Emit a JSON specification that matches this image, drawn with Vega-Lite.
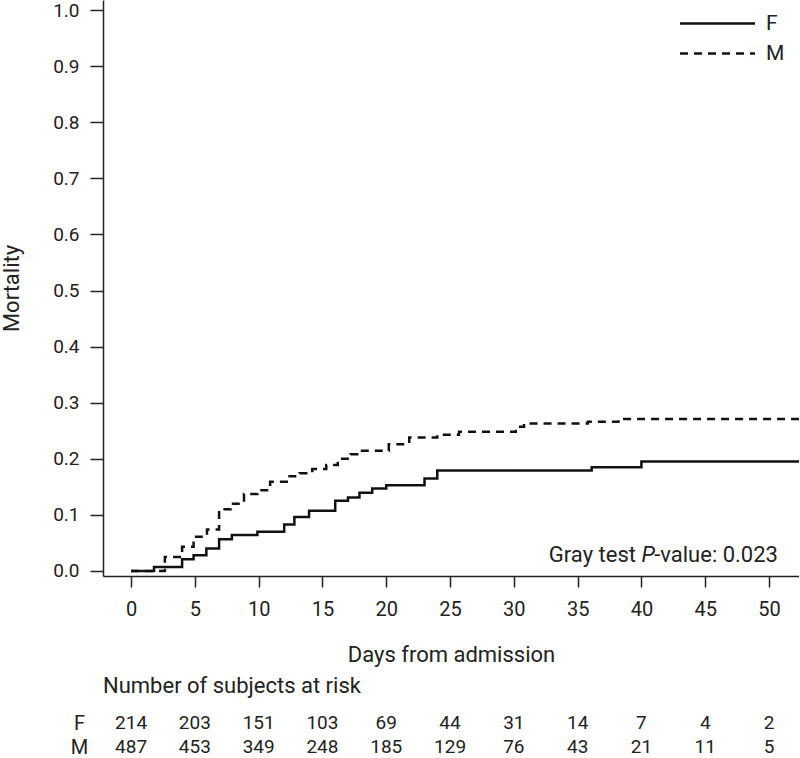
{
  "$schema": "https://vega.github.io/schema/vega-lite/v6.json",
  "padding": {"left": 0, "top": 0, "right": 0, "bottom": 0},
  "background": "white",
  "config": {
    "font": "Roboto",
    "view": {"stroke": null},
    "axis": {"domainColor": "#222", "tickColor": "#222", "labelColor": "#222", "titleColor": "#222", "grid": false, "domainWidth": 1.5, "tickWidth": 1.5, "titleFontWeight": "normal"},
    "concat": {"spacing": 10}
  },
  "datasets": {
    "curves": [
      {"sex": "F", "day": 0, "mortality": 0},
      {"sex": "F", "day": 1.8, "mortality": 0.007},
      {"sex": "F", "day": 4.0, "mortality": 0.021},
      {"sex": "F", "day": 4.9, "mortality": 0.028},
      {"sex": "F", "day": 5.9, "mortality": 0.040},
      {"sex": "F", "day": 6.9, "mortality": 0.0565},
      {"sex": "F", "day": 7.9, "mortality": 0.064},
      {"sex": "F", "day": 9.9, "mortality": 0.070},
      {"sex": "F", "day": 12.0, "mortality": 0.083},
      {"sex": "F", "day": 12.8, "mortality": 0.096},
      {"sex": "F", "day": 13.95, "mortality": 0.1075},
      {"sex": "F", "day": 16.0, "mortality": 0.125},
      {"sex": "F", "day": 17.0, "mortality": 0.131},
      {"sex": "F", "day": 17.9, "mortality": 0.1396},
      {"sex": "F", "day": 18.9, "mortality": 0.147},
      {"sex": "F", "day": 20.0, "mortality": 0.153},
      {"sex": "F", "day": 23.0, "mortality": 0.165},
      {"sex": "F", "day": 24.0, "mortality": 0.179},
      {"sex": "F", "day": 36.1, "mortality": 0.185},
      {"sex": "F", "day": 40.0, "mortality": 0.195},
      {"sex": "F", "day": 52.35, "mortality": 0.195},
      {"sex": "M", "day": 0, "mortality": 0},
      {"sex": "M", "day": 2.65, "mortality": 0.025},
      {"sex": "M", "day": 4.0, "mortality": 0.043},
      {"sex": "M", "day": 4.9, "mortality": 0.061},
      {"sex": "M", "day": 5.95, "mortality": 0.074},
      {"sex": "M", "day": 6.9, "mortality": 0.11},
      {"sex": "M", "day": 7.8, "mortality": 0.12},
      {"sex": "M", "day": 8.85, "mortality": 0.137},
      {"sex": "M", "day": 9.9, "mortality": 0.144},
      {"sex": "M", "day": 10.9, "mortality": 0.159},
      {"sex": "M", "day": 12.2, "mortality": 0.169},
      {"sex": "M", "day": 13.2, "mortality": 0.174},
      {"sex": "M", "day": 14.2, "mortality": 0.182},
      {"sex": "M", "day": 15.3, "mortality": 0.189},
      {"sex": "M", "day": 16.2, "mortality": 0.200},
      {"sex": "M", "day": 17.2, "mortality": 0.208},
      {"sex": "M", "day": 18.1, "mortality": 0.2145},
      {"sex": "M", "day": 20.2, "mortality": 0.226},
      {"sex": "M", "day": 21.8, "mortality": 0.238},
      {"sex": "M", "day": 24.0, "mortality": 0.243},
      {"sex": "M", "day": 25.7, "mortality": 0.248},
      {"sex": "M", "day": 30.15, "mortality": 0.257},
      {"sex": "M", "day": 30.8, "mortality": 0.263},
      {"sex": "M", "day": 35.8, "mortality": 0.266},
      {"sex": "M", "day": 38.2, "mortality": 0.271},
      {"sex": "M", "day": 52.35, "mortality": 0.271}
    ],
    "risk": [
      {"group": "F", "day": 0, "n": 214},
      {"group": "F", "day": 5, "n": 203},
      {"group": "F", "day": 10, "n": 151},
      {"group": "F", "day": 15, "n": 103},
      {"group": "F", "day": 20, "n": 69},
      {"group": "F", "day": 25, "n": 44},
      {"group": "F", "day": 30, "n": 31},
      {"group": "F", "day": 35, "n": 14},
      {"group": "F", "day": 40, "n": 7},
      {"group": "F", "day": 45, "n": 4},
      {"group": "F", "day": 50, "n": 2},
      {"group": "M", "day": 0, "n": 487},
      {"group": "M", "day": 5, "n": 453},
      {"group": "M", "day": 10, "n": 349},
      {"group": "M", "day": 15, "n": 248},
      {"group": "M", "day": 20, "n": 185},
      {"group": "M", "day": 25, "n": 129},
      {"group": "M", "day": 30, "n": 76},
      {"group": "M", "day": 35, "n": 43},
      {"group": "M", "day": 40, "n": 21},
      {"group": "M", "day": 45, "n": 11},
      {"group": "M", "day": 50, "n": 5}
    ]
  },
  "vconcat": [
    {
      "width": 696,
      "height": 576,
      "layer": [
        {
          "data": {"name": "curves"},
          "mark": {"type": "line", "interpolate": "step-after", "strokeWidth": 2.5, "color": "#111", "clip": true},
          "encoding": {
            "x": {"field": "day", "type": "quantitative",
              "scale": {"domain": [-2.2, 52.35], "nice": false, "zero": false},
              "axis": {"values": [0, 5, 10, 15, 20, 25, 30, 35, 40, 45, 50], "title": "Days from admission", "tickSize": 11, "labelPadding": 12, "labelFontSize": 20, "titleFontSize": 22, "titlePadding": 25, "labelFlush": false}},
            "y": {"field": "mortality", "type": "quantitative",
              "scale": {"domain": [-0.009, 1.018], "nice": false, "zero": false},
              "axis": {"values": [0, 0.1, 0.2, 0.3, 0.4, 0.5, 0.6, 0.7, 0.8, 0.9, 1.0], "format": ".1f", "title": "Mortality", "tickSize": 13, "labelPadding": 11, "labelFontSize": 19, "titleFontSize": 22, "titlePadding": 29, "labelFlush": false}},
            "strokeDash": {"field": "sex", "type": "nominal",
              "scale": {"domain": ["F", "M"], "range": [[1, 0], [8, 6]]},
              "legend": {"title": null, "orient": "none", "legendX": 603, "legendY": 12, "symbolType": "M-3.75,0H3.75", "symbolSize": 400, "symbolStrokeWidth": 2.5, "symbolStrokeColor": "#111", "labelFontSize": 21, "labelColor": "#222", "labelOffset": 37, "rowPadding": 8}}
          }
        },
        {
          "data": {"values": [{}]},
          "mark": {"type": "text", "align": "right", "baseline": "alphabetic", "fontSize": 22, "color": "#222"},
          "encoding": {"x": {"datum": 50.7}, "y": {"datum": 0.0165}, "text": {"value": "-value: 0.023"}}
        },
        {
          "data": {"values": [{}]},
          "mark": {"type": "text", "align": "right", "baseline": "alphabetic", "fontSize": 22, "fontStyle": "italic", "color": "#222", "dx": -123},
          "encoding": {"x": {"datum": 50.7}, "y": {"datum": 0.0165}, "text": {"value": "P"}}
        },
        {
          "data": {"values": [{}]},
          "mark": {"type": "text", "align": "right", "baseline": "alphabetic", "fontSize": 22, "color": "#222", "dx": -142},
          "encoding": {"x": {"datum": 50.7}, "y": {"datum": 0.0165}, "text": {"value": "Gray test"}}
        }
      ]
    },
    {
      "data": {"name": "risk"},
      "width": 696,
      "height": 48,
      "title": {"text": "Number of subjects at risk", "anchor": "start", "frame": "group", "fontSize": 22, "fontWeight": "normal", "color": "#222", "offset": 13},
      "mark": {"type": "text", "fontSize": 19, "color": "#222"},
      "encoding": {
        "x": {"field": "day", "type": "quantitative", "scale": {"domain": [-2.2, 52.35], "nice": false, "zero": false}, "axis": null},
        "y": {"field": "group", "type": "nominal", "scale": {"domain": ["F", "M"]}, "axis": {"title": null, "domain": false, "ticks": false, "labelFontSize": 20, "labelPadding": 24, "labelAlign": "center", "labelColor": "#222"}},
        "text": {"field": "n", "type": "quantitative"}
      }
    }
  ]
}
